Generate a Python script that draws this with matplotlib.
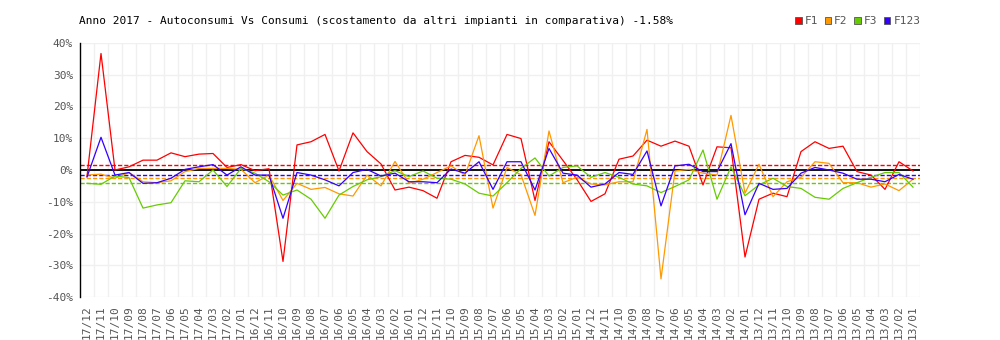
import matplotlib
matplotlib.use("Agg")
import matplotlib.pyplot as plt
from matplotlib.patches import Patch

# Mesi dal 17/12 al 13/01 (ordine inverso)
anni = ["17", "16", "15", "14", "13"]
mesi = ["12", "11", "10", "09", "08", "07", "06", "05", "04", "03", "02", "01"]
etichette = [a + "/" + m for a in anni for m in mesi]

f1 = [-2.0, 36.7, 0.0, 1.0, 3.1, 3.1, 5.4, 4.2, 5.0, 5.2,
      0.8, 1.7, -0.2, 0.4, -28.8, 7.9, 8.9, 11.2, -0.3, 11.7,
      5.8, 1.9, -6.3, -5.4, -6.5, -8.9, 2.6, 4.6, 4.0, 1.6,
      11.2, 9.9, -9.6, 8.9, 3.0, -3.0, -9.9, -7.5, 3.4, 4.4,
      9.4, 7.5, 9.1, 7.5, -4.7, 7.3, 7.0, -27.4, -9.2, -7.3,
      -8.4, 5.8, 8.9, 6.8, 7.5, -0.5, -1.6, -6.1, 2.6, -0.3]
f2 = [-1.6, -1.3, -2.6, -0.8, -3.7, -4.0, -3.4, -0.5, 0.5, 0.5,
      0.5, 0.2, -4.0, -1.6, -9.6, -4.2, -6.1, -5.5, -7.5, -8.2,
      -1.6, -5.0, 2.7, -4.2, -2.9, -0.8, 1.3, -1.6, 10.8, -12.0,
      0.8, -1.5, -14.3, 12.3, -4.0, -2.3, -4.4, -4.7, -3.7, -3.7,
      12.8, -34.3, -0.3, 0.2, -1.0, -1.6, 17.2, -7.3, 1.8, -8.4,
      -3.7, -2.3, 2.6, 2.1, -4.0, -4.0, -5.4, -4.4, -6.5, -2.9]
f3 = [-4.2, -4.5, -1.9, -2.4, -12.0, -11.0, -10.3, -3.4, -3.7, 0.0,
      -5.2, 0.5, -1.0, -3.7, -7.9, -6.3, -9.2, -15.2, -7.9, -5.2,
      -3.1, -2.1, -0.2, -2.1, -0.3, -2.6, -2.9, -4.4, -7.3, -8.2,
      -4.0, 0.5, 3.8, -1.9, 0.8, 1.3, -2.3, -0.8, -2.3, -4.4,
      -5.0, -7.1, -5.2, -3.1, 6.3, -9.2, 1.0, -8.1, -4.7, -2.6,
      -5.2, -5.8, -8.6, -9.2, -5.8, -4.0, -2.3, -0.8, -0.8, -5.4]
f123 = [-2.2, 10.3, -1.6, -0.8, -4.2, -4.0, -2.6, 0.2, 1.0, 1.7,
        -1.6, 1.0, -1.6, -1.6, -15.2, -0.8, -1.6, -3.1, -5.0, -0.8,
        0.2, -1.9, -1.0, -3.7, -3.7, -4.0, 0.3, -1.0, 2.6, -6.1,
        2.6, 2.6, -6.3, 6.8, -1.0, -1.6, -5.4, -4.4, -0.8, -1.4,
        6.0, -11.3, 1.3, 1.8, -0.5, -0.5, 8.3, -14.1, -4.2, -6.1,
        -5.8, -1.0, 0.8, 0.0, -1.0, -2.9, -2.9, -3.7, -1.4, -2.9]

# medie (linee tratteggiate)
medie = {"F1": 1.57, "F2": -2.6, "F3": -4.2, "F123": -1.58}

serie = [("F1", f1, "#FF0000"), ("F2", f2, "#FF9900"),
         ("F3", f3, "#66CC00"), ("F123", f123, "#3300FF")]

plt.rcParams["font.family"] = ["DejaVu Sans Mono"]

fig = plt.figure(figsize=(10, 3.4), dpi=100)
ax = fig.add_axes([0.08, 1 - 297 / 340, 0.84, 254 / 340])

x = list(range(len(etichette)))

# griglia
for v in range(-40, 41, 10):
    ax.axhline(v, color="#F0F0F0", lw=1.0, zorder=0)
for i in range(len(etichette)):
    ax.axvline(i + 0.5, color="#F0F0F0", lw=1.0, zorder=0)

ax.axhline(0, color="black", lw=1.3, zorder=2)

for nome, valori, colore in serie:
    ax.plot(x, valori, color=colore, lw=0.9, zorder=3)
for nome, valori, colore in serie:
    ax.axhline(medie[nome], color=colore, lw=1.0, ls=(0, (3, 1.5)), zorder=2.5)

ax.set_xlim(-0.5, len(etichette) - 0.5)
ax.set_ylim(-40, 40)
ax.set_yticks(range(-40, 41, 10))
ax.set_yticklabels([str(v) + "%" for v in range(-40, 41, 10)])
ax.set_xticks(x)
ax.set_xticklabels(etichette, rotation=90)
ax.tick_params(axis="both", length=0, labelsize=8, colors="#555555")
ax.tick_params(axis="y", pad=5)
ax.tick_params(axis="x", pad=6)

for s in ["top", "right", "bottom"]:
    ax.spines[s].set_visible(False)
ax.spines["left"].set_color("black")
ax.spines["left"].set_linewidth(1.0)

fig.text(0.079, 1 - 21 / 340,
         "Anno 2017 - Autoconsumi Vs Consumi (scostamento da altri impianti in comparativa) -1.58%",
         fontsize=8, color="black", va="center", ha="left")

maniglie = [Patch(facecolor=c, edgecolor="#555555", lw=0.6, label=n) for n, v, c in serie]
leg = fig.legend(handles=maniglie, loc="center left", bbox_to_anchor=(0.795, 1 - 21 / 340),
                 ncol=4, frameon=False, fontsize=8, handlelength=0.6, handleheight=0.6,
                 handletextpad=0.25, columnspacing=0.6, borderpad=0, borderaxespad=0)
for t in leg.get_texts():
    t.set_color("#555555")

fig.savefig("out.png", dpi=100)
